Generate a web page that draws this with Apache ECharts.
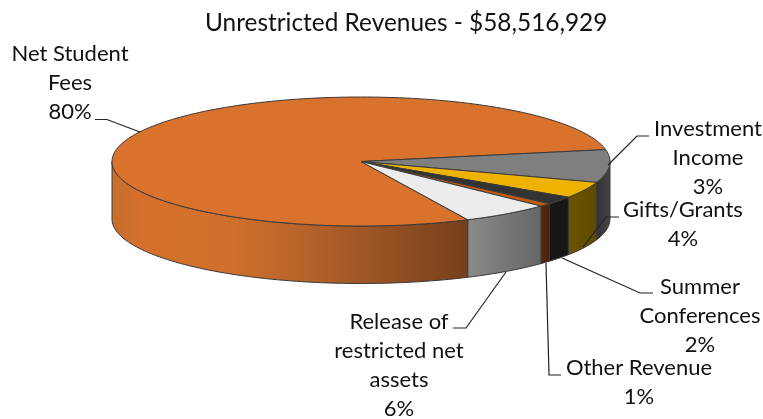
<!DOCTYPE html>
<html><head><meta charset="utf-8">
<style>html,body{margin:0;padding:0;background:#fff}#c{width:763px;height:419px}</style>
<script src="https://cdn.jsdelivr.net/npm/echarts@6/dist/echarts.min.js"></script>
</head><body><div id="c"></div>
<script>
const chartTitle = 'Unrestricted Revenues - $58,516,929';
const categories = ['Net Student Fees','Investment Income','Gifts/Grants','Summer Conferences','Other Revenue','Release of restricted net assets'];
const drawnShares = [79.1, 8.2, 4.1, 2.0, 0.8, 5.8];
const percentLabels = ['80%','3%','4%','2%','1%','6%'];

const topColors = ['#d9722c','#7f7f7f','#eeb200','#333333','#c55a11','#ececec'];
const wallStops = [
  [[0,'#c56e2c'],[0.08,'#d6702c'],[0.33,'#d0702c'],[0.55,'#b5622a'],[1,'#75401b']],
  [[0,'#333333'],[1,'#444444']],
  [[0,'#6b5400'],[1,'#5f4a00']],
  [[0,'#161616'],[1,'#161616']],
  [[0,'#552a0c'],[1,'#4a2208']],
  [[0,'#8a8a8a'],[1,'#666666']]
];
const labelLines = [
  ['Net Student','Fees'],['Investment','Income'],['Gifts/Grants'],['Summer','Conferences'],['Other Revenue'],['Release of','restricted net','assets']
];
const labelAnchors = [[70,54],[708,129],[683,210],[700,287],[639,368],[399,322]];
const leaders = [
  [[95,119.5],[107,119.5],[140,132]],
  [[608,165],[637,136],[649,136]],
  [[583,247],[606,217],[619,217]],
  [[562,258],[640,293],[653,293]],
  [[546,263],[549,375],[561,375]],
  [[506,272],[466,328],[453,328]]
];

const cx = 361, cy = 161.5, rx = 249, ry = 64.5, depth = 57.5, startDeg = 64.6;
const total = drawnShares.reduce((a,b)=>a+b,0);
const bounds = (() => { let a = startDeg; return drawnShares.map(v => { const s=a; a += v/total*360; return [s,a]; }); })();
const pt = (deg, dy=0) => { const r = deg*Math.PI/180; return [cx+rx*Math.cos(r), cy+ry*Math.sin(r)+dy]; };
const arc = (a,b,dy=0) => { const n=Math.max(2,Math.ceil((b-a)/1.5)), o=[]; for(let i=0;i<=n;i++) o.push(pt(a+(b-a)*i/n,dy)); return o; };
const edge = {stroke:'#3a3a3a', lineWidth:1, lineJoin:'round'};

function renderWall(params, api){
  const i = api.value(0), [a,b] = bounds[i], kids = [];
  [[0,180],[360,540]].forEach(([l,h])=>{
    const s=Math.max(a,l), e=Math.min(b,h);
    if(e<=s) return;
    const pts = arc(s,e,0).concat(arc(s,e,depth).reverse());
    const xs = pts.map(p=>p[0]), x0=Math.min(...xs), x1=Math.max(...xs);
    kids.push({type:'polygon', shape:{points:pts}, style:Object.assign({}, edge, {
      fill:{type:'linear', x:x0, y:0, x2:x1, y2:0, global:true,
        colorStops: wallStops[i].map(([o,c])=>({offset:o, color:c}))}
    })});
  });
  return {type:'group', children:kids};
}
function renderTop(params, api){
  const i = api.value(0), [a,b] = bounds[i];
  return {type:'polygon', shape:{points:[[cx,cy]].concat(arc(a,b))},
    style:Object.assign({}, edge, {fill:topColors[i]})};
}
const order = categories.map((_,i)=>[i]);
const graphics = [];
leaders.forEach(p=>graphics.push({type:'polyline', shape:{points:p}, style:{stroke:'#222', lineWidth:1.2, fill:null}, z:10}));
labelLines.forEach((ls,i)=>{
  ls.concat(percentLabels[i]).forEach((t,k)=>graphics.push({type:'text', x:labelAnchors[i][0], y:labelAnchors[i][1]+k*29,
    style:{text:t, fill:'#111', font:'22px Lato', textAlign:'center', textVerticalAlign:'middle'}, z:11}));
});
const chart = echarts.init(document.getElementById('c'), null, {renderer:'canvas'});
chart.setOption({
  animation:false,
  title:{text:chartTitle, left:200, top:6, textStyle:{fontFamily:'Lato', fontSize:24.4, fontWeight:'normal', color:'#111'}},
  series:[
    {type:'custom', coordinateSystem:'none', renderItem:renderWall, data:order, z:2, silent:true},
    {type:'custom', coordinateSystem:'none', renderItem:renderTop, data:order, z:3, silent:true}
  ],
  graphic:graphics
});
</script></body></html>
